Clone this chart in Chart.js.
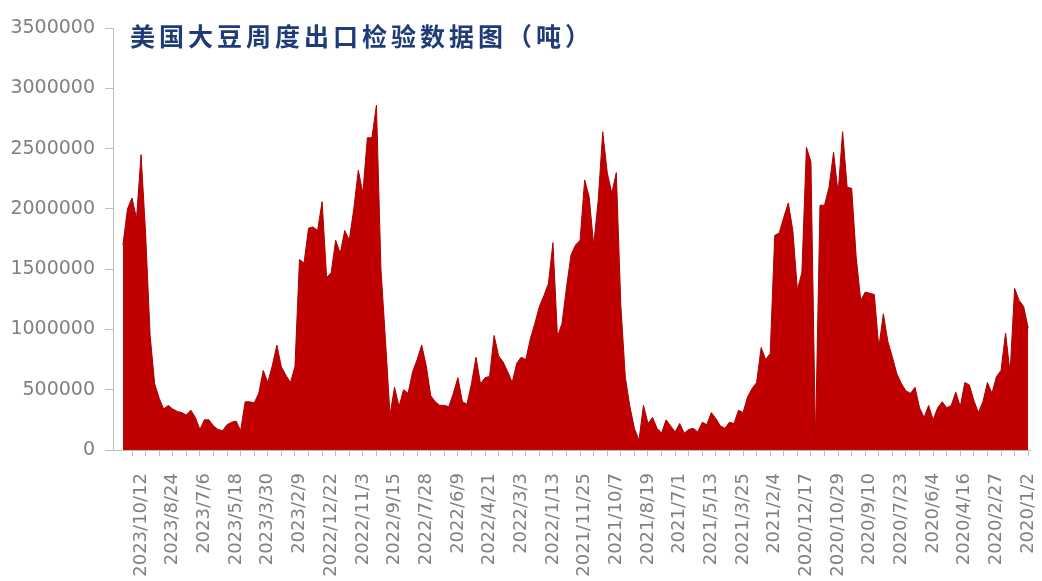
<!DOCTYPE html>
<html lang="zh-CN">
<head>
<meta charset="UTF-8">
<title>美国大豆周度出口检验数据图</title>
<script src="https://cdn.jsdelivr.net/npm/chart.js@4.4.0/dist/chart.umd.min.js"></script>
<style>
  body { margin: 0; background: #fff; }
  #wrap { width: 1042px; height: 581px; }
</style>
</head>
<body>
<div id="wrap"><canvas id="myChart"></canvas></div>

<script>
const titleText = '美国大豆周度出口检验数据图（吨）';

// shown date labels, newest on the left, one every 7 weeks
const tickLabels = [
  '2023/10/12', '2023/8/24', '2023/7/6', '2023/5/18', '2023/3/30', '2023/2/9',
  '2022/12/22', '2022/11/3', '2022/9/15', '2022/7/28', '2022/6/9', '2022/4/21',
  '2022/3/3', '2022/1/13', '2021/11/25', '2021/10/7', '2021/8/19', '2021/7/1',
  '2021/5/13', '2021/3/25', '2021/2/4', '2020/12/17', '2020/10/29', '2020/9/10',
  '2020/7/23', '2020/6/4', '2020/4/16', '2020/2/27', '2020/1/2'
];
const labelStart = 4;
const labelEvery = 7;

const yTicks = [0, 500000, 1000000, 1500000, 2000000, 2500000, 3000000, 3500000];

// weekly inspections (tonnes), newest week first
const inspections = [
  1700000, 2000000, 2090000, 1920000, 2450000, 1800000, 950000, 550000, 430000, 340000,
  370000, 340000, 320000, 310000, 290000, 330000, 270000, 170000, 250000, 250000,
  200000, 170000, 160000, 210000, 230000, 240000, 160000, 400000, 400000, 390000,
  470000, 660000, 560000, 700000, 870000, 690000, 620000, 560000, 690000, 1580000,
  1550000, 1840000, 1850000, 1820000, 2060000, 1430000, 1470000, 1740000, 1630000, 1820000,
  1740000, 2000000, 2320000, 2130000, 2590000, 2590000, 2860000, 1500000, 910000, 290000,
  520000, 360000, 500000, 470000, 650000, 750000, 870000, 700000, 450000, 400000,
  370000, 370000, 360000, 470000, 600000, 400000, 380000, 550000, 770000, 550000,
  600000, 610000, 950000, 780000, 730000, 650000, 560000, 720000, 770000, 750000,
  920000, 1050000, 1190000, 1280000, 1380000, 1720000, 940000, 1050000, 1350000, 1620000,
  1700000, 1740000, 2240000, 2100000, 1700000, 2070000, 2640000, 2300000, 2130000, 2300000,
  1200000, 600000, 360000, 180000, 80000, 370000, 220000, 270000, 180000, 140000,
  250000, 200000, 150000, 220000, 140000, 170000, 180000, 150000, 230000, 210000,
  310000, 260000, 200000, 180000, 230000, 220000, 330000, 310000, 440000, 510000,
  560000, 850000, 750000, 800000, 1780000, 1800000, 1930000, 2050000, 1820000, 1330000,
  1470000, 2510000, 2390000, 80000, 2030000, 2030000, 2180000, 2470000, 2130000, 2640000,
  2180000, 2170000, 1600000, 1240000, 1310000, 1300000, 1290000, 850000, 1130000, 900000,
  770000, 630000, 550000, 490000, 470000, 520000, 350000, 270000, 370000, 250000,
  350000, 400000, 350000, 370000, 480000, 360000, 560000, 540000, 410000, 310000,
  400000, 560000, 470000, 610000, 660000, 970000, 640000, 1340000, 1240000, 1190000,
  1010000
];

const lastIndex = inspections.length - 1;
const points = inspections.map((v, i) => ({ x: i, y: v }));

// title sits inside the plot, top left
const cornerTitle = {
  id: 'cornerTitle',
  afterDraw(chart) {
    const c = chart.ctx;
    c.save();
    c.font = 'bold 25px "Noto Sans CJK SC"';
    c.fillStyle = '#1f3c78';
    c.textBaseline = 'middle';
    c.letterSpacing = '4px';
    c.fillText(titleText, 130, 36);
    c.restore();
  }
};

const axisGrey = '#bfbfbf';

new Chart(document.getElementById('myChart'), {
  type: 'line',
  data: {
    datasets: [{
      data: points,
      fill: 'origin',
      backgroundColor: '#c00000',
      borderColor: '#a80000',
      borderWidth: 1,
      pointRadius: 0,
      tension: 0
    }]
  },
  options: {
    animation: false,
    responsive: true,
    maintainAspectRatio: false,
    layout: { padding: { left: 0, top: 28, right: 12, bottom: 0 } },
    plugins: {
      legend: { display: false },
      tooltip: { enabled: false }
    },
    scales: {
      x: {
        type: 'linear',
        min: -2.2,
        max: lastIndex + 0.4,
        afterBuildTicks: scale => {
          scale.ticks = inspections.map((v, i) => ({ value: i }));
        },
        afterFit: scale => {
          scale.height = 131;
          scale.paddingLeft = 0;
          scale.paddingRight = 0;
        },
        ticks: {
          autoSkip: false,
          maxRotation: 90,
          minRotation: 90,
          color: '#808080',
          font: { family: 'DejaVu Sans', size: 18 },
          padding: 17,
          callback: value => {
            const k = (value - labelStart) / labelEvery;
            return Number.isInteger(k) ? tickLabels[k] : '';
          }
        },
        grid: {
          drawOnChartArea: false,
          tickLength: 6,
          color: c => (c.tick && (lastIndex - c.tick.value) % 3 === 0) ? axisGrey : 'rgba(0,0,0,0)'
        },
        border: { color: axisGrey }
      },
      y: {
        min: 0,
        max: yTicks[yTicks.length - 1],
        afterBuildTicks: scale => {
          scale.ticks = yTicks.map(v => ({ value: v }));
        },
        afterFit: scale => {
          scale.width = 113;
          scale.paddingTop = 0;
          scale.paddingBottom = 0;
        },
        ticks: {
          color: '#808080',
          font: { family: 'DejaVu Sans', size: 19 },
          padding: 10,
          callback: v => String(v)
        },
        grid: { drawOnChartArea: false, tickLength: 8, color: axisGrey },
        border: { color: axisGrey }
      }
    }
  },
  plugins: [cornerTitle]
});
</script>
</body>
</html>
